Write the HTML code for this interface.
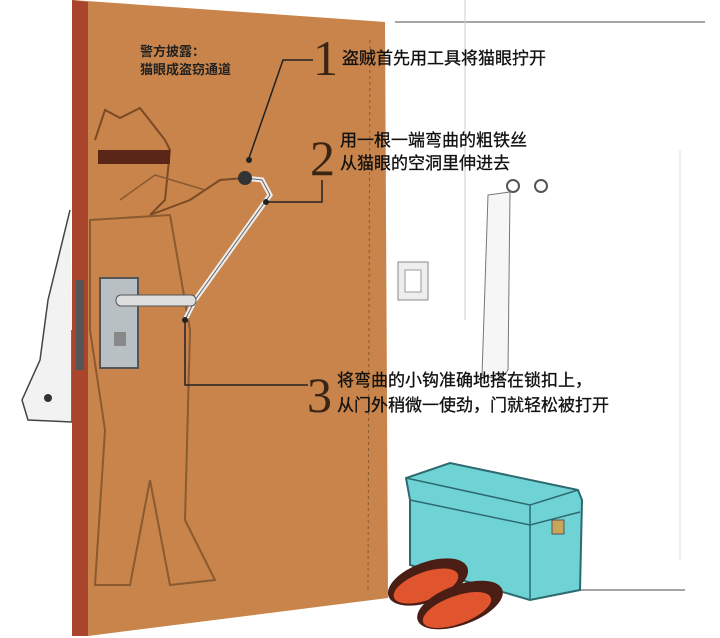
<!DOCTYPE html>
<html><head><meta charset="utf-8"><style>
html,body{margin:0;padding:0;background:#fff;}
svg{display:block}
text{font-family:"Liberation Sans","Noto Sans CJK SC",sans-serif;}
.n{font-family:"Liberation Serif",serif;font-size:50px;fill:#3a2414}
.t{font-size:17px;fill:#111;stroke:#111;stroke-width:0.3}
</style></head><body>
<svg width="720" height="638" viewBox="0 0 720 638" xmlns="http://www.w3.org/2000/svg">
<rect width="720" height="638" fill="#fff"/>
<line x1="395" y1="22" x2="705" y2="22" stroke="#888" stroke-width="1.5"/>
<line x1="485" y1="590" x2="685" y2="590" stroke="#888" stroke-width="1.5"/>
<line x1="465" y1="0" x2="465" y2="320" stroke="#ccc"/>
<line x1="680" y1="150" x2="680" y2="560" stroke="#ddd"/>
<rect x="398" y="262" width="30" height="38" fill="#eee" stroke="#888"/>
<rect x="405" y="270" width="16" height="22" fill="#fff" stroke="#999"/>
<circle cx="513" cy="186" r="6" fill="none" stroke="#555" stroke-width="2"/>
<circle cx="541" cy="186" r="6" fill="none" stroke="#555" stroke-width="2"/>
<path d="M488 195 L510 192 L508 370 L500 380 L482 375 Z" fill="#f6f6f6" stroke="#777"/>
<path d="M406 478 L410 500 L410 565 L530 600 L580 590 L582 500 L578 490 L450 463 Z" fill="#6fd3d6" stroke="#2d6a70" stroke-width="2"/>
<path d="M406 478 L530 505 L578 490 M530 505 L530 600 M410 500 L530 525 L580 512" stroke="#2d6a70" stroke-width="1.5" fill="none"/>
<rect x="552" y="520" width="12" height="14" fill="#c9a55a" stroke="#555"/>
<ellipse cx="428" cy="582" rx="42" ry="20" fill="#4a1e14" transform="rotate(-20 428 582)"/>
<ellipse cx="426" cy="586" rx="34" ry="14" fill="#e0542e" transform="rotate(-20 426 586)"/>
<ellipse cx="460" cy="605" rx="45" ry="20" fill="#4a1e14" transform="rotate(-20 460 605)"/>
<ellipse cx="457" cy="610" rx="36" ry="14" fill="#e0542e" transform="rotate(-20 457 610)"/>
<path d="M70 210 L48 300 L40 360 L22 400 L28 420 L72 422 L72 330" stroke="#444" fill="#f2f2f2" stroke-width="1.5"/>
<circle cx="48" cy="398" r="4" fill="#333"/>
<polygon points="72,0 385,22 388,598 88,636 72,636" fill="#c8844a"/>
<polygon points="72,0 88,2 88,636 72,636" fill="#a8452c"/>
<line x1="370" y1="40" x2="368" y2="590" stroke="#8a5a30" stroke-dasharray="3,3"/>
<rect x="76" y="280" width="8" height="90" fill="#555"/>
<path d="M95 140 L105 110 L120 118 L140 108 L165 140 L170 150 L165 200 L150 215 L190 200 L220 180 L245 178" stroke="#7a4a25" stroke-width="2" fill="none"/>
<rect x="98" y="150" width="72" height="14" fill="#5a2618"/>
<path d="M90 220 L170 215 L190 330 L185 520 L215 580 L170 585 L150 480 L130 585 L95 585 L105 430 L90 330 Z" fill="none" stroke="#8a5a30" stroke-width="2"/>
<path d="M205 190 L155 175 L120 200" stroke="#8a5a30" fill="none" stroke-width="1.5"/>
<path d="M245 178 L262 180 L270 195 L195 300 L185 320" stroke="#eee" stroke-width="5" fill="none"/>
<path d="M245 178 L262 180 L270 195 L195 300 L185 320" stroke="#666" stroke-width="1" fill="none"/>
<circle cx="245" cy="178" r="7" fill="#333"/>
<rect x="100" y="278" width="38" height="90" fill="#b8c0c4" stroke="#555" stroke-width="2"/>
<rect x="116" y="295" width="80" height="11" rx="5" fill="#ddd" stroke="#555"/>
<rect x="114" y="332" width="12" height="14" fill="#888"/>
<text x="140" y="56" font-size="13" font-weight="bold" fill="#222">警方披露：</text>
<text x="140" y="74" font-size="13" font-weight="bold" fill="#222">猫眼成盗窃通道</text>
<path d="M313 60 L283 60 L249 158" stroke="#222" stroke-width="1.5" fill="none"/>
<circle cx="249" cy="160" r="3" fill="#222"/>
<path d="M322 180 L322 202 L268 202" stroke="#222" stroke-width="1.5" fill="none"/>
<circle cx="266" cy="202" r="3" fill="#222"/>
<path d="M308 385 L185 385 L185 322" stroke="#222" stroke-width="1.5" fill="none"/>
<circle cx="185" cy="320" r="3" fill="#222"/>
<text class="n" x="313" y="75">1</text>
<text class="n" x="310" y="175">2</text>
<text class="n" x="307" y="412">3</text>
<text class="t" x="342" y="64">盗贼首先用工具将猫眼拧开</text>
<text class="t" x="340" y="146">用一根一端弯曲的粗铁丝</text>
<text class="t" x="340" y="169">从猫眼的空洞里伸进去</text>
<text class="t" x="337" y="386">将弯曲的小钩准确地搭在锁扣上，</text>
<text class="t" x="337" y="411">从门外稍微一使劲，门就轻松被打开</text>
</svg>
</body></html>
